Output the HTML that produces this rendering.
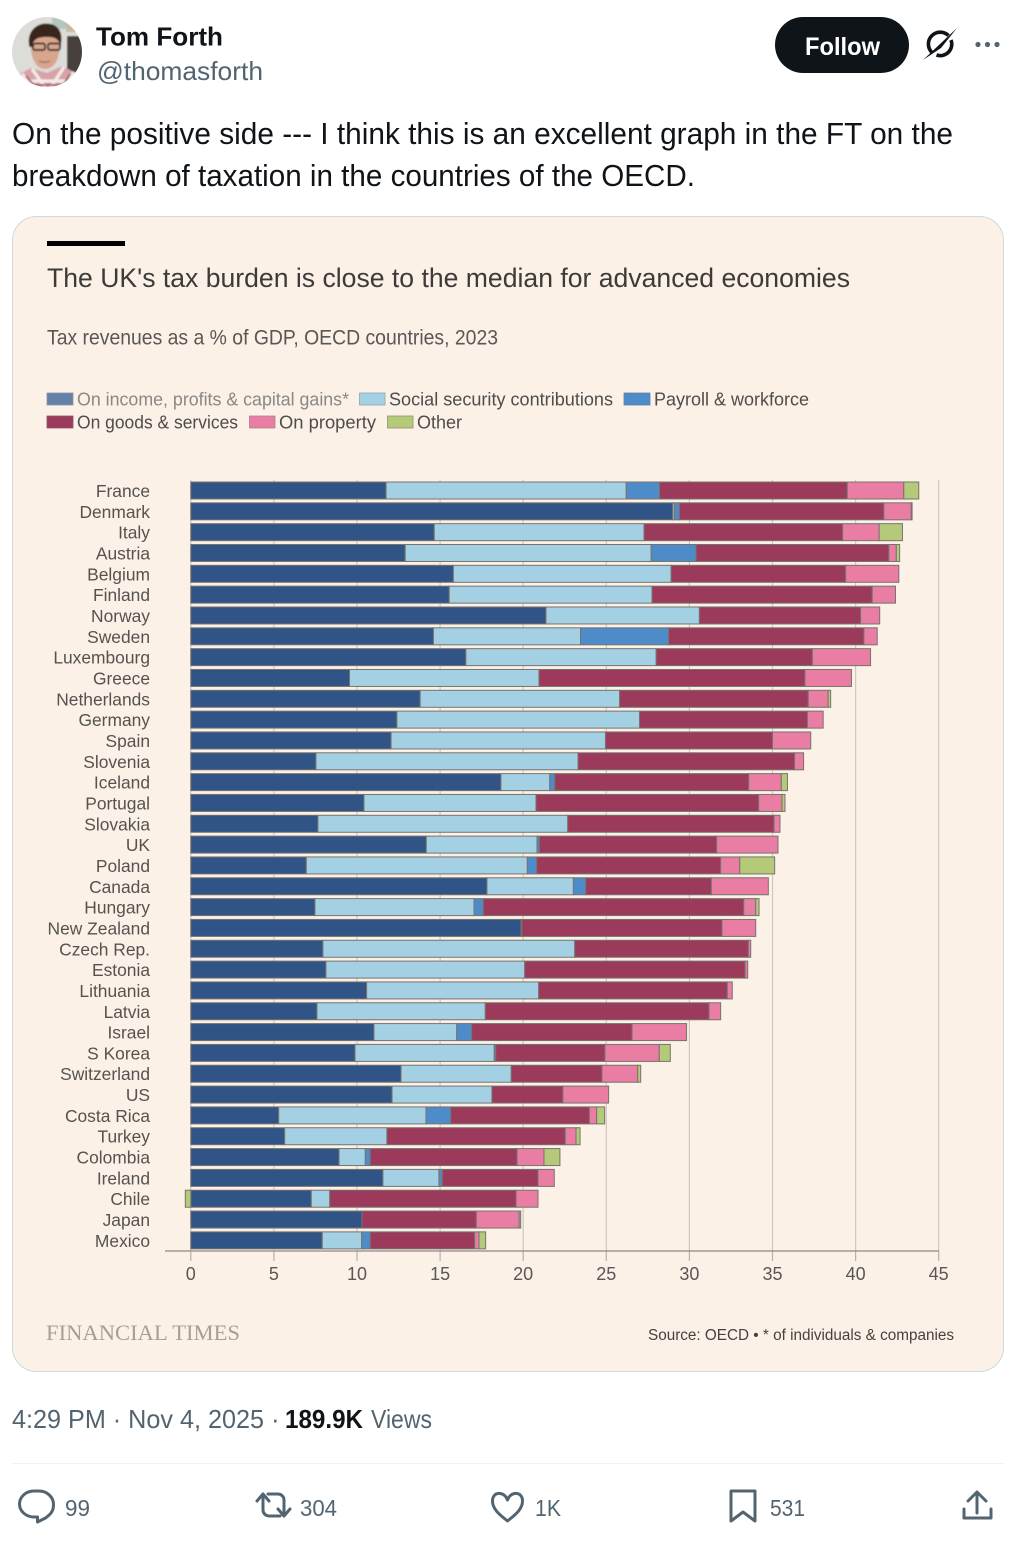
<!DOCTYPE html>
<html lang="en">
<head>
<meta charset="utf-8">
<title>Tom Forth post: UK tax burden chart</title>
<style>
html,body{margin:0;padding:0;background:#fff;width:1029px;height:1544px;overflow:hidden}
svg{display:block;font-family:"Liberation Sans",sans-serif}
</style>
</head>
<body>
<svg id="page" xmlns="http://www.w3.org/2000/svg" width="1029" height="1544" viewBox="0 0 1029 1544">
<defs>
<clipPath id="avatar-clip"><circle cx="47" cy="52" r="35"/></clipPath>
<filter id="soft" x="-10%" y="-10%" width="120%" height="120%"><feGaussianBlur stdDeviation="0.9"/></filter>
</defs>

<g clip-path="url(#avatar-clip)">
<g filter="url(#soft)">
<rect x="10" y="15" width="74" height="74" fill="#dcdcd8"/>
<rect x="52" y="15" width="20" height="14" fill="#b5c6c0"/>
<rect x="66" y="22" width="18" height="10" fill="#c9b9a0"/>
<rect x="67" y="36" width="17" height="40" fill="#47413d"/>
<path d="M12 90 L14 77 L31 68 L47 73 L62 66 L82 76 L82 90Z" fill="#d7a3a8"/>
<path d="M22 74 l12 16 M32 69 l15 21 M64 67 l-15 23 M74 72 l-10 18 M14 81 l66 0" stroke="#f5ebe7" stroke-width="3.200" fill="none"/>
<path d="M26 76 l11 13 M70 74 l-9 15 M20 85 l56 0" stroke="#a85d6c" stroke-width="2" fill="none"/>
<path d="M31 42 C30 58 36 69 45 69 C55 69 60 58 60 42 C58 34 34 34 31 42Z" fill="#d8a68c"/>
<path d="M29.500 47 C26 32 36 23.500 46 23.500 C58 23.500 64 32 60.500 46 C59 39 55 36.500 46 37 C38 37 33 39 32 47Z" fill="#38261d"/>
<rect x="33" y="43.500" width="12" height="6.500" rx="2" fill="#d4a68f" stroke="#2b2422" stroke-width="1.700"/>
<rect x="48" y="43.500" width="12" height="6.500" rx="2" fill="#d4a68f" stroke="#2b2422" stroke-width="1.700"/>
<path d="M39 61 q6 2.500 11 0" stroke="#a26c5c" stroke-width="1.400" fill="none"/>
</g>
</g>

<text x="96" y="45.5" font-size="26" font-weight="700" fill="#0f1419" textLength="127" lengthAdjust="spacingAndGlyphs">Tom Forth</text>
<text x="97" y="80" font-size="26" fill="#536471" textLength="166" lengthAdjust="spacingAndGlyphs">@thomasforth</text>

<g>
<rect x="775" y="17" width="134" height="56" rx="28" fill="#0f1419"/>
<text x="805" y="55" font-size="25" font-weight="700" fill="#fff" textLength="75" lengthAdjust="spacingAndGlyphs">Follow</text>
</g>
<g>
<path d="M948.500 35.500 A11.500 11.500 0 0 0 932 52.500" fill="none" stroke="#0f1419" stroke-width="3.600"/>
<path d="M951 40 A11.500 11.500 0 0 1 936.500 55" fill="none" stroke="#0f1419" stroke-width="3.600"/>
<path d="M923 60 L957 28 L941 48Z" fill="#0f1419"/>
</g>
<g fill="#536471">
<circle cx="978" cy="44.5" r="2.6"/><circle cx="987.5" cy="44.5" r="2.6"/><circle cx="997" cy="44.5" r="2.6"/>
</g>

<text x="12" y="144" font-size="31" fill="#0f1419" textLength="941" lengthAdjust="spacingAndGlyphs">On the positive side --- I think this is an excellent graph in the FT on the</text>
<text x="12" y="186" font-size="31" fill="#0f1419" textLength="683" lengthAdjust="spacingAndGlyphs">breakdown of taxation in the countries of the OECD.</text>

<rect x="12.5" y="216.5" width="991" height="1155" rx="24" fill="#fbf1e7" stroke="#cfd9de"/>
<rect x="47" y="241" width="78" height="5" fill="#000"/>
<text x="47" y="287" font-size="27" fill="#3d3a38" textLength="803" lengthAdjust="spacingAndGlyphs">The UK's tax burden is close to the median for advanced economies</text>
<text x="47" y="344.500" font-size="21.5" fill="#5a5755" textLength="451" lengthAdjust="spacingAndGlyphs">Tax revenues as a % of GDP, OECD countries, 2023</text>

<g font-size="18">
<g>
<rect x="47" y="393" width="26" height="12" fill="#6480a8" stroke="#8b94a3" stroke-width=".8"/>
<text x="77" y="405.500" fill="#8a8886" textLength="272" lengthAdjust="spacingAndGlyphs">On income, profits &amp; capital gains*</text></g>
<g>
<rect x="359.5" y="393" width="25.5" height="12" fill="#a4d0e4" stroke="#8fa6b0" stroke-width=".8"/>
<text x="389" y="405.500" fill="#4f4d4b" textLength="224" lengthAdjust="spacingAndGlyphs">Social security contributions</text></g>
<g>
<rect x="624" y="393" width="26" height="12" fill="#4d8cc8" stroke="#5c82a6" stroke-width=".8"/>
<text x="654" y="405.500" fill="#4f4d4b" textLength="155" lengthAdjust="spacingAndGlyphs">Payroll &amp; workforce</text></g>
<g>
<rect x="47" y="416" width="26" height="12" fill="#9c3a5c" stroke="#8a5468" stroke-width=".8"/>
<text x="77" y="428.500" fill="#4f4d4b" textLength="161" lengthAdjust="spacingAndGlyphs">On goods &amp; services</text></g>
<g>
<rect x="249.5" y="416" width="25.5" height="12" fill="#e97da3" stroke="#a8848f" stroke-width=".8"/>
<text x="279" y="428.500" fill="#4f4d4b" textLength="97" lengthAdjust="spacingAndGlyphs">On property</text></g>
<g>
<rect x="387.5" y="416" width="25.5" height="12" fill="#b5ca78" stroke="#8b9470" stroke-width=".8"/>
<text x="417" y="428.500" fill="#4f4d4b" textLength="45" lengthAdjust="spacingAndGlyphs">Other</text></g>
</g>

<g id="chart"></g>

<text x="46" y="1340" font-family="'Liberation Serif',serif" font-size="22" fill="#a89f94" textLength="194" lengthAdjust="spacingAndGlyphs">FINANCIAL TIMES</text>
<text x="648" y="1340" font-size="15.5" fill="#45423f" textLength="306" lengthAdjust="spacingAndGlyphs">Source: OECD • * of individuals &amp; companies</text>

<text x="12" y="1428" font-size="26" fill="#536471" textLength="252" lengthAdjust="spacingAndGlyphs">4:29 PM · Nov 4, 2025</text>
<text x="271" y="1428" font-size="26" fill="#536471">·</text>
<text x="285" y="1428" font-size="26" font-weight="700" fill="#0f1419" textLength="78" lengthAdjust="spacingAndGlyphs">189.9K</text>
<text x="371" y="1428" font-size="26" fill="#536471" textLength="61" lengthAdjust="spacingAndGlyphs">Views</text>
<rect x="12" y="1463" width="992" height="1" fill="#eff3f4"/>

<g fill="none" stroke="#536471" stroke-width="3" stroke-linejoin="round" stroke-linecap="round">
<path d="M34 1491 h5 a14.500 13.500 0 0 1 14.500 14 c0 7 -4 10 -8 13 l-8 4 v-5 h-3.500 a14.500 13 0 0 1 0 -26Z"/>
<path d="M262 1494 l-6 7 M262 1494 l6 7 M262 1495 v15 a6 6 0 0 0 6 6 h11 M283 1516 l-6 -7 M283 1516 l6 -7 M283 1515 v-15 a6 6 0 0 0 -6 -6 h-10" transform="translate(1,0)"/>
<path d="M507.500 1500 c-3 -9 -15 -9 -15 1 c0 9 9 15 15 20 c6 -5 15 -11 15 -20 c0 -10 -12 -10 -15 -1Z"/>
<path d="M731 1491 h24 v30 l-12 -9 l-12 9Z"/>
<path d="M977 1493 v20 M968 1501 l9 -9 l9 9 M964 1509 v9 h27 v-9"/>
</g>
<g font-size="23" fill="#536471">
<text x="65" y="1516" textLength="25" lengthAdjust="spacingAndGlyphs">99</text>
<text x="300" y="1516" textLength="37" lengthAdjust="spacingAndGlyphs">304</text>
<text x="535" y="1516" textLength="26" lengthAdjust="spacingAndGlyphs">1K</text>
<text x="770" y="1516" textLength="35" lengthAdjust="spacingAndGlyphs">531</text>
</g>
</svg>

<script>
const countries = ["France","Denmark","Italy","Austria","Belgium","Finland","Norway","Sweden","Luxembourg","Greece","Netherlands","Germany","Spain","Slovenia","Iceland","Portugal","Slovakia","UK","Poland","Canada","Hungary","New Zealand","Czech Rep.","Estonia","Lithuania","Latvia","Israel","S Korea","Switzerland","US","Costa Rica","Turkey","Colombia","Ireland","Chile","Japan","Mexico"];
const incomeValues = [11.75,29.0,14.65,12.9,15.8,15.55,21.37,14.6,16.55,9.55,13.8,12.4,12.05,7.53,18.66,10.42,7.65,14.17,6.95,17.82,7.47,19.87,7.95,8.13,10.58,7.59,11.02,9.88,12.65,12.11,5.29,5.65,8.92,11.56,7.25,10.3,7.91];
const socialValues = [14.45,0.1,12.62,14.8,13.1,12.2,9.23,8.85,11.45,11.4,12.0,14.6,12.9,15.77,2.94,10.35,15.03,6.66,13.3,5.2,9.57,0,15.15,11.96,10.35,10.13,4.98,8.38,6.63,6.01,8.86,6.15,1.58,3.37,1.11,0,2.37];
const payrollValues = [2.0,0.3,0,2.7,0,0,0,5.3,0,0,0,0,0,0,0.3,0,0,0.14,0.56,0.74,0.56,0.05,0,0,0,0,0.9,0.09,0,0,1.49,0,0.3,0.2,0,0,0.52];
const goodsValues = [11.3,12.3,11.95,11.6,10.5,13.25,9.7,11.75,9.4,16.0,11.35,10.1,10.05,13.03,11.67,13.4,12.41,10.67,11.07,7.56,15.67,12.04,10.45,13.26,11.35,13.46,9.65,6.57,5.46,4.27,8.34,10.73,8.83,5.76,11.21,6.88,6.28];
const propertyValues = [3.4,1.65,2.2,0.45,3.2,1.4,1.15,0.8,3.5,2.8,1.2,0.95,2.3,0.54,1.96,1.4,0.36,3.69,1.15,3.43,0.72,2.03,0.14,0.16,0.3,0.7,3.28,3.27,2.15,2.75,0.44,0.65,1.62,0.98,1.32,2.58,0.26];
const otherValues = [0.9,0.05,1.4,0.2,0,0,0,0,0,0,0.15,0,0,0,0.37,0.18,0,0,2.1,0,0.2,0,0,0,0,0,0,0.66,0.18,0,0.48,0.24,0.96,0,-0.33,0.09,0.4];
const tickLabels = [0,5,10,15,20,25,30,35,40,45];

const SVG_NS = "http://www.w3.org/2000/svg";
const chart = document.getElementById("chart");
const seriesList = [
  {key: "income", values: incomeValues, color: "#315486"},
  {key: "social-security", values: socialValues, color: "#a4d0e4"},
  {key: "payroll", values: payrollValues, color: "#4d8cc8"},
  {key: "goods", values: goodsValues, color: "#9c3a5c"},
  {key: "property", values: propertyValues, color: "#e97da3"},
  {key: "other", values: otherValues, color: "#b5ca78"}
];
function xScale(v) { return 190.8 + v * 16.62; }
function yScale(i) { return 482 + i * 20.83; }
function make(tag, attrs, text) {
  const el = document.createElementNS(SVG_NS, tag);
  for (const k in attrs) el.setAttribute(k, attrs[k]);
  if (text !== undefined) el.textContent = text;
  chart.appendChild(el);
  return el;
}
tickLabels.forEach(function (t) {
  const x = xScale(t);
  const grid = make("line", {x1: x, x2: x, y1: 480, y2: 1251, stroke: "#cfc8be", "stroke-width": 1.2});
  
  
  const tick = make("line", {x1: x, x2: x, y1: 1251, y2: 1261, stroke: "#b8b2aa", "stroke-width": 1.2});
  
  
  const label = make("text", {x: x, y: 1280, "text-anchor": "middle", "font-size": 18, fill: "#5a5755"}, String(t));
  
  
});
countries.forEach(function (name, i) {
  const y = yScale(i);
  const label = make("text", {x: 150, y: y + 15, "text-anchor": "end", "font-size": 17.4, fill: "#56534f"}, name);
  
  
  let pos = 0, neg = 0;
  seriesList.forEach(function (s) {
    const v = s.values[i];
    if (!v) return;
    let a, b;
    if (v > 0) { a = pos; b = pos + v; pos = b; }
    else { b = neg; a = neg + v; neg = a; }
    const bar = make("rect", {x: xScale(a), y: y, width: xScale(b) - xScale(a), height: 17, fill: s.color, stroke: "#77736f", "stroke-width": 1});
    
    
    bar.setAttribute('data-series', s.key);
    bar.setAttribute('data-country', name);
  });
});
const axis = make("line", {x1: 165, x2: 938.6, y1: 1251, y2: 1251, stroke: "#8f8a83", "stroke-width": 1.2});


</script>
</body>
</html>
